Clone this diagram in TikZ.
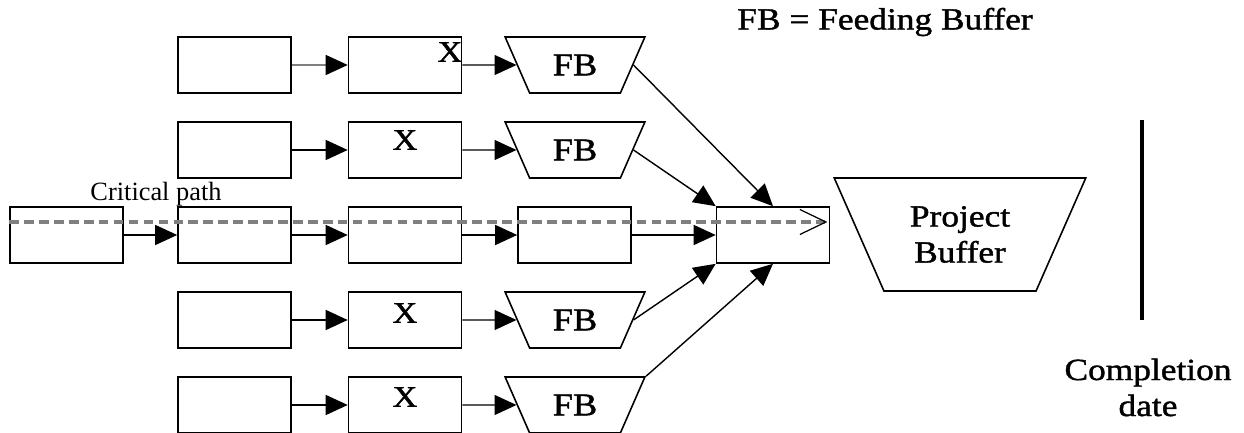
\documentclass[tikz,border=0pt]{standalone}
\usepackage{fontspec}
\setmainfont[FakeStretch=1.15,FakeBold=1.3]{Liberation Serif}
\newfontfamily\plainserif{Liberation Serif}
\usetikzlibrary{arrows.meta,shapes.geometric}

\begin{document}
\begin{tikzpicture}[
  >={Triangle[length=0.44cm,width=0.4cm,color=black]},
  task/.style={draw,line width=0.9pt,minimum width=2.26cm,minimum height=1.12cm,inner sep=0pt},
  feed/.style={draw,trapezium,shape border rotate=180,trapezium left angle=60,trapezium right angle=60,
    trapezium stretches=true,minimum width=2.8cm,minimum height=1.12cm,inner sep=0pt,line width=0.9pt,
    font=\fontsize{18}{20}\selectfont},
  link/.style={->,line width=0.8pt},
  xtag/.style={font=\fontsize{17}{19}\selectfont,inner sep=0pt},
  bigtext/.style={font=\fontsize{17.5}{20.5}\selectfont,align=center}
]
  \useasboundingbox (0,0) rectangle (24.88,8.66);

  %% feeding chains
  % row 1
  \node[task] (a1) at (4.69,7.36) {};
  \node[task] (b1) at (8.10,7.36) {};
  \node[feed] (fb1) at (11.5,7.36) {FB};
  \node[xtag] (x1) at (9.0,7.62) {X};
  % row 2
  \node[task] (a2) at (4.69,5.66) {};
  \node[task] (b2) at (8.10,5.66) {};
  \node[feed] (fb2) at (11.5,5.66) {FB};
  \node[xtag] (x2) at (8.10,5.86) {X};
  % row 4
  \node[task] (a4) at (4.69,2.26) {};
  \node[task] (b4) at (8.10,2.26) {};
  \node[feed] (fb4) at (11.5,2.26) {FB};
  \node[xtag] (x4) at (8.10,2.40) {X};
  % row 5
  \node[task] (a5) at (4.69,0.56) {};
  \node[task] (b5) at (8.10,0.56) {};
  \node[feed] (fb5) at (11.5,0.56) {FB};
  \node[xtag] (x5) at (8.10,0.72) {X};

  %% critical chain
  \node[task] (c1) at (1.33,3.96) {};
  \node[task] (c2) at (4.69,3.96) {};
  \node[task] (c3) at (8.10,3.96) {};
  \node[task] (c4) at (11.49,3.96) {};
  \node[task] (c5) at (15.46,3.96) {};
  \node[font=\plainserif\fontsize{15}{17}\selectfont] (cpath) at (3.12,4.78) {Critical path};

  % project buffer and deadline
  \node[draw,trapezium,shape border rotate=180,trapezium left angle=60,trapezium right angle=60,trapezium stretches=true,
    minimum width=5.04cm,minimum height=2.26cm,inner sep=0pt,line width=0.9pt,bigtext] (pb) at (19.2,3.97) {Project\\Buffer};
  \coordinate (dtop) at (22.84,6.26);
  \coordinate (dbot) at (22.84,2.26);
  \draw[line width=2.3pt] (dtop) -- (dbot);
  \node[bigtext] (done) at (22.96,0.91) {Completion\\date};
  \node[font=\fontsize{17.5}{20}\selectfont] (legend) at (17.7,8.22) {FB = Feeding Buffer};

  %% arrows
  \draw[link,draw=black!50] (a1) -- (b1);
  \draw[link] (b1) -- (fb1);
  \draw[link] (a2) -- (b2);
  \draw[link] (b2) -- (fb2);
  \draw[link] (a4) -- (b4);
  \draw[link] (b4) -- (fb4);
  \draw[link] (a5) -- (b5);
  \draw[link] (b5) -- (fb5);

  \draw[link] (c1) -- (c2);
  \draw[link] (c2) -- (c3);
  \draw[link] (c3) -- (c4);
  \draw[link] (c4) -- (c5);

  \draw[link] (fb1.east) -- (c5.north);
  \draw[link] (fb2.east) -- (c5.north west);
  \draw[link] (fb4.east) -- (c5.south west);
  \draw[link] (fb5.bottom left corner) -- (c5.south);

  % critical path line
  \coordinate (cpa) at ([yshift=0.26cm]c1.west);
  \coordinate (cpb) at ([yshift=0.26cm,xshift=-0.06cm]c5.east);
  \draw[black!50,line width=2pt,dash pattern=on 5.5pt off 3pt,
    -{Straight Barb[length=0.52cm,width=0.5cm,line width=0.7pt,color=black]}] (cpa) -- (cpb);
\end{tikzpicture}
\end{document}
